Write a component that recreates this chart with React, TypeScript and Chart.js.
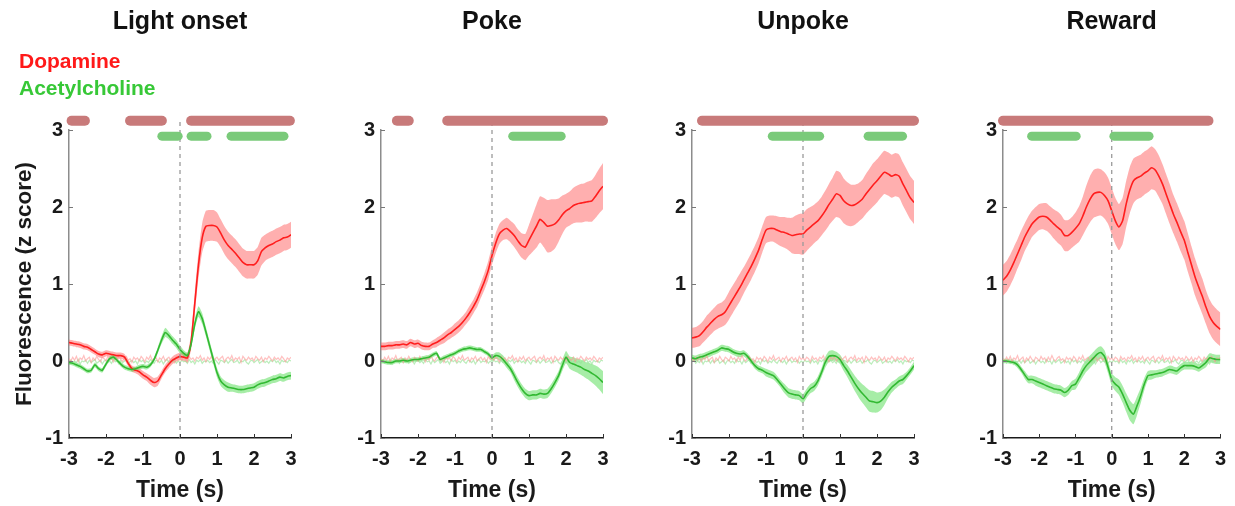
import React, { useEffect, useRef } from 'react';
import { Chart, registerables } from 'chart.js';
Chart.register(...registerables);

const FONT = "'Liberation Sans', Arial, Helvetica, sans-serif";
const PANEL_TITLES = ['Light onset', 'Poke', 'Unpoke', 'Reward'];
const SERIES_NAMES = ['Dopamine', 'Acetylcholine'];
const X_TICKS = [-3, -2, -1, 0, 1, 2, 3];
const Y_TICKS = [-1, 0, 1, 2, 3];
const X_TITLE = 'Time (s)';
const Y_TITLE = 'Fluorescence (z score)';
// sampling grids: 0.1 s for traces, 0.05 s for shuffled baselines
const TIME = Array.from({ length: 61 }, (_, i) => (i - 30) / 10);
const TIME_FINE = Array.from({ length: 121 }, (_, i) => (i - 60) / 20);

// ---------- Light onset ----------
const DA1 = [0.24,0.23,0.22,0.21,0.19,0.18,0.15,0.12,0.09,0.08,
0.10,0.09,0.08,0.07,0.07,0.05,-0.03,-0.10,-0.12,-0.14,
-0.18,-0.21,-0.25,-0.28,-0.26,-0.18,-0.10,-0.04,0.01,0.04,
0.06,
0.05,0.04,0.25,0.75,1.25,1.60,1.75,1.76,1.76,1.74,
1.66,1.57,1.50,1.45,1.40,1.34,1.28,1.25,1.25,1.25,
1.30,1.42,1.47,1.50,1.52,1.55,1.57,1.60,1.61,1.64];
const DA1_SEM = [0.04,0.04,0.04,0.04,0.04,0.04,0.04,0.04,0.04,0.04,
0.04,0.04,0.04,0.04,0.04,0.04,0.04,0.04,0.04,0.05,
0.05,0.05,0.06,0.06,0.06,0.05,0.05,0.05,0.05,0.05,
0.05,
0.05,0.06,0.10,0.14,0.17,0.19,0.20,0.20,0.20,0.19,
0.18,0.18,0.18,0.18,0.18,0.18,0.18,0.18,0.18,0.18,
0.18,0.18,0.17,0.17,0.17,0.17,0.17,0.17,0.17,0.17];
const ACH1 = [-0.02,-0.03,-0.05,-0.07,-0.10,-0.13,-0.12,-0.05,-0.10,-0.12,
-0.04,0.03,0.05,0.01,-0.04,-0.08,-0.10,-0.11,-0.10,-0.08,
-0.07,-0.08,-0.05,0.02,0.14,0.27,0.37,0.33,0.27,0.22,
0.15,
0.10,0.07,0.22,0.48,0.64,0.55,0.38,0.20,0.02,-0.15,
-0.26,-0.31,-0.34,-0.35,-0.36,-0.37,-0.37,-0.36,-0.35,-0.34,
-0.31,-0.29,-0.28,-0.26,-0.24,-0.23,-0.21,-0.22,-0.20,-0.19];
const ACH1_SEM = [0.03,0.03,0.03,0.03,0.03,0.03,0.03,0.03,0.03,0.03,
0.03,0.03,0.03,0.03,0.03,0.03,0.03,0.03,0.03,0.03,
0.03,0.03,0.03,0.03,0.04,0.05,0.06,0.05,0.05,0.05,
0.05,
0.04,0.04,0.05,0.06,0.07,0.07,0.06,0.06,0.06,0.06,
0.06,0.06,0.06,0.05,0.05,0.05,0.05,0.05,0.05,0.05,
0.05,0.05,0.05,0.05,0.05,0.05,0.05,0.05,0.05,0.05];

// ---------- Poke ----------
const DA2 = [0.19,0.19,0.20,0.20,0.21,0.21,0.22,0.21,0.24,0.22,
0.23,0.20,0.19,0.19,0.22,0.24,0.27,0.30,0.34,0.37,
0.41,0.45,0.50,0.56,0.63,0.71,0.80,0.92,1.04,1.18,
1.37,
1.53,1.65,1.70,1.72,1.68,1.63,1.56,1.50,1.48,1.57,
1.66,1.75,1.84,1.80,1.75,1.76,1.78,1.83,1.90,1.95,
1.98,2.02,2.04,2.05,2.06,2.07,2.08,2.14,2.21,2.27];
const DA2_SEM = [0.05,0.05,0.05,0.05,0.05,0.05,0.05,0.05,0.05,0.05,
0.05,0.05,0.05,0.05,0.05,0.06,0.06,0.07,0.07,0.07,
0.08,0.08,0.08,0.08,0.09,0.09,0.10,0.10,0.11,0.12,
0.12,
0.13,0.13,0.13,0.14,0.14,0.15,0.15,0.16,0.17,0.20,
0.24,0.28,0.30,0.32,0.34,0.34,0.32,0.28,0.25,0.22,
0.22,0.23,0.24,0.25,0.25,0.26,0.27,0.28,0.29,0.30];
const ACH2 = [0.00,-0.01,-0.02,-0.02,0.00,0.00,0.01,0.00,0.01,0.02,
0.02,0.03,0.04,0.05,0.08,0.10,0.02,0.04,0.06,0.08,
0.10,0.13,0.15,0.16,0.17,0.16,0.15,0.15,0.12,0.09,
0.04,
0.07,0.06,0.02,-0.04,-0.10,-0.19,-0.28,-0.36,-0.42,-0.45,
-0.44,-0.44,-0.42,-0.43,-0.42,-0.36,-0.28,-0.19,-0.06,0.05,
-0.02,-0.04,-0.06,-0.08,-0.11,-0.13,-0.16,-0.19,-0.23,-0.28];
const ACH2_SEM = [0.03,0.03,0.03,0.03,0.03,0.03,0.03,0.03,0.03,0.03,
0.03,0.03,0.03,0.03,0.03,0.03,0.03,0.03,0.03,0.03,
0.03,0.03,0.03,0.03,0.03,0.03,0.03,0.03,0.03,0.03,
0.04,
0.04,0.05,0.05,0.05,0.05,0.06,0.06,0.06,0.06,0.06,
0.06,0.06,0.06,0.06,0.06,0.06,0.06,0.06,0.07,0.08,
0.08,0.09,0.09,0.10,0.10,0.11,0.12,0.13,0.14,0.15];

// ---------- Unpoke ----------
const DA3 = [0.30,0.31,0.33,0.38,0.44,0.49,0.54,0.58,0.60,0.64,
0.72,0.80,0.88,0.96,1.05,1.14,1.23,1.33,1.44,1.58,
1.70,1.72,1.72,1.70,1.68,1.67,1.65,1.63,1.64,1.65,
1.65,
1.70,1.74,1.78,1.82,1.88,1.95,2.03,2.10,2.17,2.15,
2.08,2.04,2.02,2.03,2.06,2.10,2.17,2.23,2.29,2.34,
2.40,2.45,2.43,2.40,2.42,2.40,2.30,2.21,2.12,2.06];
const DA3_SEM = [0.13,0.13,0.14,0.14,0.15,0.15,0.15,0.16,0.16,0.17,
0.18,0.18,0.18,0.18,0.17,0.17,0.17,0.17,0.17,0.17,
0.17,0.17,0.17,0.18,0.19,0.20,0.21,0.23,0.25,0.26,
0.27,
0.27,0.26,0.25,0.25,0.25,0.26,0.27,0.28,0.30,0.30,
0.29,0.28,0.27,0.26,0.25,0.25,0.26,0.27,0.28,0.28,
0.28,0.28,0.28,0.28,0.28,0.28,0.28,0.28,0.28,0.28];
const ACH3 = [0.04,0.03,0.05,0.06,0.08,0.10,0.12,0.14,0.17,0.16,
0.15,0.12,0.10,0.09,0.10,0.06,0.00,-0.06,-0.10,-0.12,
-0.15,-0.17,-0.19,-0.24,-0.30,-0.36,-0.41,-0.43,-0.44,-0.45,
-0.49,
-0.42,-0.36,-0.33,-0.26,-0.15,-0.02,0.06,0.07,0.06,0.02,
-0.06,-0.13,-0.21,-0.29,-0.36,-0.42,-0.47,-0.52,-0.53,-0.54,
-0.52,-0.47,-0.40,-0.34,-0.30,-0.26,-0.24,-0.19,-0.13,-0.06];
const ACH3_SEM = [0.04,0.04,0.04,0.04,0.04,0.04,0.04,0.04,0.04,0.04,
0.04,0.04,0.04,0.04,0.04,0.04,0.04,0.04,0.04,0.04,
0.05,0.05,0.05,0.05,0.05,0.06,0.06,0.06,0.06,0.06,
0.06,
0.06,0.06,0.06,0.06,0.06,0.07,0.07,0.07,0.06,0.06,
0.07,0.08,0.09,0.10,0.11,0.12,0.13,0.14,0.14,0.13,
0.12,0.10,0.08,0.07,0.06,0.06,0.06,0.05,0.05,0.05];

// ---------- Reward ----------
const DA4 = [1.05,1.10,1.18,1.28,1.39,1.50,1.61,1.70,1.78,1.83,
1.87,1.88,1.87,1.83,1.78,1.74,1.70,1.63,1.63,1.67,
1.72,1.78,1.88,2.00,2.10,2.17,2.19,2.19,2.15,2.08,
1.95,
1.82,1.74,1.82,2.04,2.22,2.34,2.38,2.40,2.44,2.47,
2.51,2.48,2.40,2.30,2.17,2.04,1.91,1.80,1.68,1.57,
1.41,1.25,1.09,0.96,0.84,0.70,0.58,0.50,0.45,0.41];
const DA4_SEM = [0.20,0.20,0.20,0.20,0.19,0.19,0.18,0.18,0.17,0.17,
0.17,0.17,0.18,0.18,0.19,0.20,0.20,0.20,0.20,0.20,
0.21,0.23,0.25,0.28,0.30,0.31,0.31,0.30,0.30,0.30,
0.30,
0.30,0.30,0.30,0.30,0.30,0.29,0.28,0.28,0.28,0.28,
0.28,0.27,0.27,0.26,0.26,0.26,0.25,0.25,0.25,0.25,
0.25,0.24,0.24,0.23,0.23,0.22,0.22,0.22,0.22,0.22];
const ACH4 = [0.00,0.00,-0.01,-0.02,-0.05,-0.11,-0.18,-0.24,-0.24,-0.26,
-0.28,-0.30,-0.32,-0.34,-0.36,-0.37,-0.38,-0.41,-0.38,-0.32,
-0.30,-0.22,-0.13,-0.06,-0.01,0.04,0.09,0.11,0.06,-0.08,
-0.24,
-0.30,-0.34,-0.43,-0.54,-0.64,-0.69,-0.58,-0.45,-0.30,-0.19,
-0.18,-0.17,-0.16,-0.15,-0.13,-0.11,-0.12,-0.13,-0.09,-0.06,
-0.06,-0.06,-0.07,-0.09,-0.06,-0.02,0.04,0.03,0.02,0.02];
const ACH4_SEM = [0.03,0.03,0.03,0.03,0.04,0.04,0.05,0.05,0.05,0.06,
0.06,0.06,0.06,0.06,0.06,0.06,0.06,0.06,0.06,0.06,
0.07,0.07,0.08,0.08,0.08,0.08,0.08,0.08,0.08,0.08,
0.08,
0.09,0.10,0.11,0.12,0.13,0.13,0.12,0.10,0.08,0.06,
0.06,0.05,0.05,0.05,0.05,0.05,0.05,0.05,0.05,0.05,
0.05,0.05,0.05,0.05,0.05,0.06,0.06,0.06,0.06,0.06];

// shuffled baselines (0.05 s grid)
const DA_SHUF = [0.03,0.00,0.05,0.01,0.06,-0.01,0.04,0.02,0.07,0.00,
0.03,0.05,-0.02,0.04,0.01,0.06,0.02,-0.01,0.05,0.03,
0.00,0.06,0.02,0.04,-0.01,0.05,0.01,0.07,0.02,0.00,
0.04,0.06,0.01,0.03,-0.02,0.05,0.02,0.04,0.00,0.06,
0.03,-0.01,0.05,0.02,0.07,0.01,0.03,0.05,-0.01,0.04,
0.02,0.06,0.00,0.03,0.05,0.01,0.04,-0.02,0.06,0.02,
0.04,
0.01,0.05,0.03,-0.01,0.06,0.02,0.04,0.00,0.05,0.03,
0.07,0.01,0.04,-0.01,0.05,0.02,0.06,0.00,0.03,0.05,
0.01,0.04,0.06,-0.01,0.03,0.05,0.02,0.07,0.00,0.04,
0.02,0.05,-0.02,0.06,0.03,0.01,0.05,0.02,0.04,0.00,
0.06,0.03,0.01,0.05,-0.01,0.04,0.02,0.06,0.03,0.00,
0.05,0.02,0.04,0.01,0.06,0.03,-0.01,0.04,0.02,0.05];
const ACH_SHUF = [-0.01,0.01,-0.03,0.00,-0.02,0.02,-0.04,0.00,-0.01,0.01,
-0.03,0.01,-0.02,0.00,0.02,-0.03,-0.01,0.01,-0.04,0.00,
0.01,-0.02,0.00,-0.03,0.02,-0.01,0.00,-0.04,0.01,-0.02,
0.00,0.02,-0.03,-0.01,0.01,-0.02,0.00,-0.04,0.02,-0.01,
0.01,-0.03,0.00,-0.02,0.02,-0.01,-0.03,0.01,0.00,-0.02,
0.01,-0.04,0.00,0.02,-0.02,0.00,-0.01,0.01,-0.03,0.00,
-0.02,
0.01,-0.01,0.00,-0.03,0.02,-0.02,0.00,-0.04,0.01,-0.01,
0.02,-0.03,0.00,-0.01,0.01,-0.02,0.00,-0.03,0.02,-0.01,
-0.04,0.01,0.00,-0.02,0.01,-0.03,0.00,0.02,-0.02,-0.01,
0.01,-0.03,0.00,-0.01,0.02,-0.02,-0.04,0.00,0.01,-0.02,
0.00,0.02,-0.03,-0.01,0.01,-0.02,0.00,-0.03,0.01,-0.01,
0.02,-0.02,0.00,-0.04,0.01,-0.01,0.00,-0.02,0.01,0.00];

// significance intervals (s)
const DA_SIG = [
  [[-2.93, -2.57], [-1.35, -0.49], [0.30, 2.97]],
  [[-2.57, -2.25], [-1.21, 3.0]],
  [[-2.73, 3.0]],
  [[-3.0, 2.67]],
];
const ACH_SIG = [
  [[-0.49, -0.05], [0.30, 0.73], [1.38, 2.81]],
  [[0.56, 1.87]],
  [[-0.83, 0.45], [1.76, 2.69]],
  [[-2.21, -0.98], [0.06, 1.03]],
];
const DA_SIG_LEVEL = 3.12;
const ACH_SIG_LEVEL = 2.92;
const ZERO_LINE = [-1, 3.12];

const DA_MEANS = [DA1, DA2, DA3, DA4];
const DA_SEMS = [DA1_SEM, DA2_SEM, DA3_SEM, DA4_SEM];
const ACH_MEANS = [ACH1, ACH2, ACH3, ACH4];
const ACH_SEMS = [ACH1_SEM, ACH2_SEM, ACH3_SEM, ACH4_SEM];

const C = {
  daLine: 'rgb(255,30,30)',
  daBand: 'rgba(255,110,110,0.55)',
  achLine: 'rgb(50,185,50)',
  achBand: 'rgba(80,220,80,0.5)',
  daShuf: 'rgba(255,150,150,0.6)',
  achShuf: 'rgba(150,228,150,0.65)',
  daSig: 'rgb(200,122,122)',
  achSig: 'rgb(122,202,122)',
  daText: 'rgb(255,25,25)',
  achText: 'rgb(55,200,55)',
};

const PLOT_LEFT = [69, 381, 692, 1003];
const PLOT_W = 222;
const AXIS_W = 69;

const pts = (vals: number[]) => TIME.map((t, i) => ({ x: t, y: vals[i] }));
const ptsFine = (vals: number[]) => TIME_FINE.map((t, i) => ({ x: t, y: vals[i] }));
const band = (m: number[], s: number[], sg: number) => TIME.map((t, i) => ({ x: t, y: m[i] + sg * s[i] }));

const inwardTicks = {
  id: 'inwardTicks',
  afterDatasetsDraw(chart: any) {
    const { ctx, chartArea, scales } = chart;
    ctx.save();
    ctx.lineWidth = 1;
    ctx.strokeStyle = '#333';
    for (const v of X_TICKS) {
      const px = Math.round(scales.x.getPixelForValue(v)) + 0.5;
      ctx.beginPath();
      ctx.moveTo(px, chartArea.bottom);
      ctx.lineTo(px, chartArea.bottom - 4);
      ctx.stroke();
    }
    ctx.strokeStyle = '#777';
    for (const v of Y_TICKS) {
      const py = Math.round(scales.y.getPixelForValue(v)) + 0.5;
      ctx.beginPath();
      ctx.moveTo(chartArea.left, py);
      ctx.lineTo(chartArea.left + 4, py);
      ctx.stroke();
    }
    ctx.restore();
  },
};

const legendText = {
  id: 'legendText',
  afterDraw(chart: any) {
    const ctx = chart.ctx;
    ctx.save();
    ctx.font = `bold 21px ${FONT}`;
    ctx.textBaseline = 'alphabetic';
    ctx.textAlign = 'left';
    ctx.fillStyle = C.daText;
    ctx.fillText(SERIES_NAMES[0], 19, 68);
    ctx.fillStyle = C.achText;
    ctx.fillText(SERIES_NAMES[1], 19, 95);
    ctx.restore();
  },
};

function Panel({ idx }: { idx: number }) {
  const ref = useRef<HTMLCanvasElement>(null);
  const left = PLOT_LEFT[idx] - AXIS_W;
  const width = idx === 3 ? 1235 - left : 311;
  const height = 506;

  useEffect(() => {
    const datasets: any[] = [];
    const line = (data: any, color: string, w: number, order: number, extra: any = {}) => ({
      data, borderColor: color, borderWidth: w, pointRadius: 0, order, fill: false, tension: 0.2, ...extra,
    });
    // DA band
    datasets.push(line(band(DA_MEANS[idx], DA_SEMS[idx], 1), 'transparent', 0, 9));
    datasets.push(line(band(DA_MEANS[idx], DA_SEMS[idx], -1), 'transparent', 0, 9, { fill: '-1', backgroundColor: C.daBand }));
    // ACH band
    datasets.push(line(band(ACH_MEANS[idx], ACH_SEMS[idx], 1), 'transparent', 0, 8));
    datasets.push(line(band(ACH_MEANS[idx], ACH_SEMS[idx], -1), 'transparent', 0, 8, { fill: '-1', backgroundColor: C.achBand }));
    // shuffled baselines
    datasets.push(line(ptsFine(DA_SHUF), C.daShuf, 1.2, 6, { tension: 0 }));
    datasets.push(line(ptsFine(ACH_SHUF), C.achShuf, 1.2, 7, { tension: 0 }));
    // means
    datasets.push(line(pts(DA_MEANS[idx]), C.daLine, 1.6, 4));
    datasets.push(line(pts(ACH_MEANS[idx]), C.achLine, 1.6, 3));
    // zero dashed line
    datasets.push(line(ZERO_LINE.map((y) => ({ x: 0, y })), '#9a9a9a', 1.3, 2, { borderDash: [4, 4], clip: false, tension: 0 }));
    // significance bars
    for (const [a, b] of DA_SIG[idx]) {
      datasets.push(line([{ x: a, y: DA_SIG_LEVEL }, { x: b, y: DA_SIG_LEVEL }], C.daSig, 10, 1, { borderCapStyle: 'round', clip: false, tension: 0 }));
    }
    for (const [a, b] of ACH_SIG[idx]) {
      datasets.push(line([{ x: a, y: ACH_SIG_LEVEL }, { x: b, y: ACH_SIG_LEVEL }], C.achSig, 9, 0, { borderCapStyle: 'round', clip: false, tension: 0 }));
    }

    const tickFont = { family: FONT, size: 20, weight: 'bold' as const };
    const chart = new Chart(ref.current!, {
      type: 'line',
      data: { datasets },
      options: {
        animation: false,
        responsive: false,
        events: [],
        layout: { padding: { left: 0, right: width - AXIS_W - PLOT_W, top: 0, bottom: 0 } },
        plugins: {
          legend: { display: false },
          tooltip: { enabled: false },
          title: {
            display: true,
            text: PANEL_TITLES[idx],
            fullSize: false,
            color: '#111',
            font: { family: FONT, size: 25, weight: 'bold' },
            padding: { top: 7, bottom: 93 },
          },
        },
        scales: {
          x: {
            type: 'linear',
            min: -3,
            max: 3,
            afterBuildTicks: (s: any) => { s.ticks = X_TICKS.map((v) => ({ value: v })); },
            afterFit: (s: any) => { s.height = 68; },
            grid: { display: false, drawTicks: false },
            border: { display: true, color: '#1a1a1a', width: 1.5 },
            ticks: { font: tickFont, color: '#1a1a1a', padding: 9, maxRotation: 0, autoSkip: false, callback: (v: any) => String(v) },
            title: { display: true, text: X_TITLE, color: '#1a1a1a', font: { family: FONT, size: 23, weight: 'bold' }, padding: { top: 0, bottom: 2 } },
          },
          y: {
            type: 'linear',
            min: -1,
            max: 3,
            afterBuildTicks: (s: any) => { s.ticks = Y_TICKS.map((v) => ({ value: v })); },
            afterFit: (s: any) => { s.width = AXIS_W; },
            grid: { display: false, drawTicks: false },
            border: { display: true, color: '#8c8c8c', width: 1.5 },
            ticks: { font: tickFont, color: '#1a1a1a', padding: 6, autoSkip: false, callback: (v: any) => String(v) },
            title: { display: idx === 0, text: Y_TITLE, color: '#1a1a1a', font: { family: FONT, size: 22.5, weight: 'bold' }, padding: { top: 11, bottom: 0 } },
          },
        },
      },
      plugins: idx === 0 ? [inwardTicks, legendText] : [inwardTicks],
    } as any);
    return () => chart.destroy();
  }, [idx, width]);

  return (
    <canvas
      ref={ref}
      width={width}
      height={height}
      style={{ position: 'absolute', left, top: 0, width, height }}
    />
  );
}

export default function App() {
  return (
    <div style={{ position: 'absolute', left: 0, top: 0, width: 1235, height: 506, background: '#fff', overflow: 'hidden' }}>
      {PANEL_TITLES.map((_, i) => (
        <Panel key={i} idx={i} />
      ))}
    </div>
  );
}
